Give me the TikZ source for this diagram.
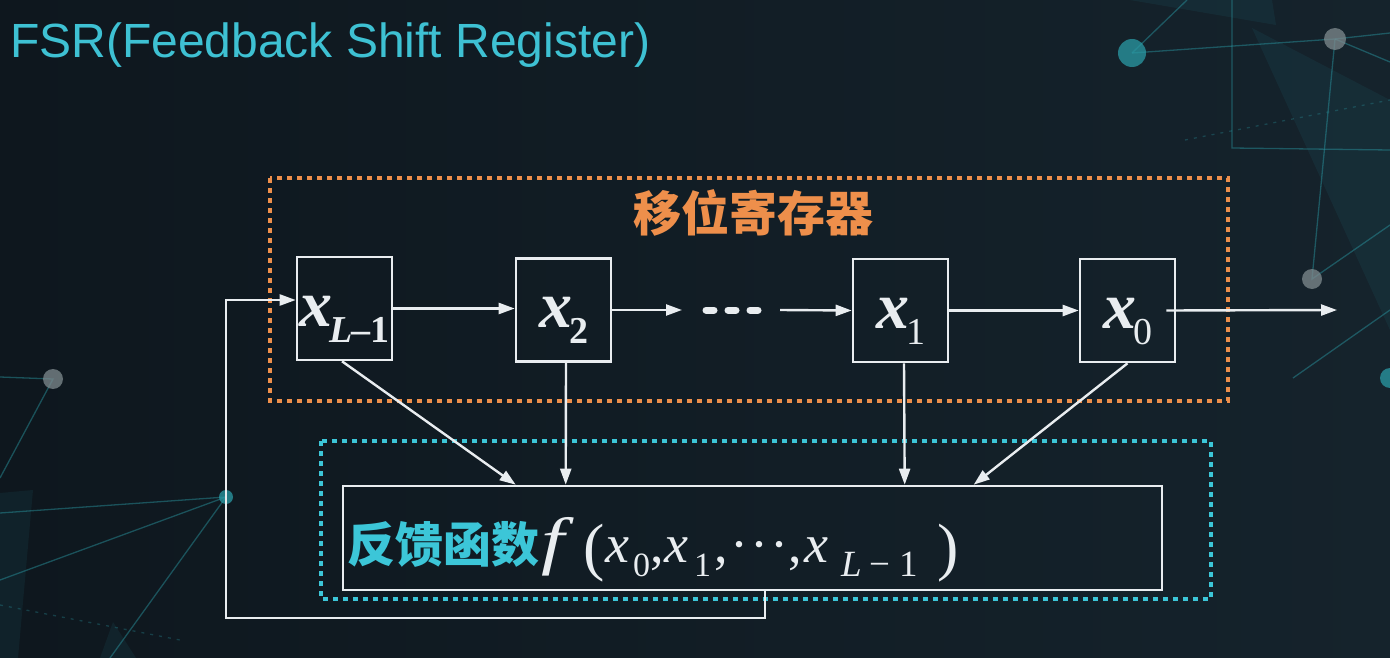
\documentclass[tikz,border=0pt]{standalone}
\usepackage{fontspec}
\setmainfont{Liberation Serif}
\newfontfamily\titlefont{Liberation Sans}
\newfontfamily\cjk{Noto Sans CJK SC}
\usetikzlibrary{arrows.meta,calc}
\definecolor{bgA}{HTML}{0E171E}
\definecolor{bgB}{HTML}{15232C}
\definecolor{titlec}{HTML}{3EC1D3}
\definecolor{orangec}{HTML}{EE8F4B}
\definecolor{cyanc}{HTML}{3CC6D8}
\definecolor{linec}{HTML}{E9EDF0}
\definecolor{netc}{HTML}{2A9AA5}
\definecolor{dotgray}{HTML}{7F8B8F}
\newcommand{\regx}[1]{\fontsize{66}{70}\selectfont\bfseries\itshape x\kern-3pt\raisebox{-16pt}{\upshape\fontsize{38}{40}\selectfont #1}}
\newcommand{\fsub}[1]{\raisebox{-14pt}{\upshape\fontsize{34}{36}\selectfont #1}}
\newcommand{\fsubb}[1]{\raisebox{-14pt}{\upshape\fontsize{37}{39}\selectfont #1}}
\newcommand{\gl}[2]{\makebox[#1pt][l]{#2}}
\begin{document}
\begin{tikzpicture}[x=1pt,y=-1pt,
  reg/.style={draw=linec, line width=2.6pt, minimum width=95pt, minimum height=103pt, inner sep=0pt, text=linec, text height=45pt, text depth=10pt},
  arr/.style={draw=linec, line width=2.4pt, -{Triangle[length=16pt,width=11pt]}},
  dotbox/.style={line width=4.5pt, dash pattern=on 5pt off 5pt},
  net/.style={draw=netc, line width=1.3pt, opacity=0.45},
  netfill/.style={fill=netc, opacity=0.09},
]
% background
\shade[left color=bgA, right color=bgB] (0,0) rectangle (1390,658);
\useasboundingbox (0,0) rectangle (1390,658);

% decorative network, top right
\fill[netfill] (1130,0) -- (1272,0) -- (1276,25) -- cycle;
\fill[netfill] (1252,28) -- (1390,100) -- (1390,330) -- cycle;
\draw[net] (1132,53) -- (1187,0);
\draw[net] (1132,53) -- (1335,39) -- (1390,33);
\draw[net] (1335,39) -- (1390,62);
\draw[net] (1232,0) -- (1232,148) -- (1390,150);
\draw[net] (1335,39) -- (1312,279) -- (1390,225);
\draw[net] (1293,378) -- (1390,310);
\draw[net, dash pattern=on 3pt off 6pt, opacity=0.3] (1185,140) -- (1390,100);
\fill[netc, opacity=0.75] (1132,53) circle (14);
\fill[dotgray, opacity=0.75] (1335,39) circle (11);
\fill[dotgray, opacity=0.75] (1312,279) circle (10);
\fill[netc, opacity=0.75] (1390,378) circle (10);

% decorative network, left
\fill[netfill] (0,493) -- (33,490) -- (18,658) -- (0,658) -- cycle;
\fill[netfill] (100,658) -- (113,622) -- (136,658) -- cycle;
\draw[net] (0,377) -- (53,379) -- (0,478);
\draw[net] (226,497) -- (0,513);
\draw[net] (226,497) -- (0,580);
\draw[net] (226,497) -- (110,658);
\draw[net, dash pattern=on 3pt off 6pt, opacity=0.3] (0,605) -- (180,640);
\fill[dotgray, opacity=0.75] (53,379) circle (10);
\fill[netc, opacity=0.75] (226,497) circle (7);

% title
\node[anchor=base west, inner sep=0pt, text=titlec, font=\titlefont\fontsize{48}{52}\selectfont] (title) at (10,58) {FSR(Feedback Shift Register)};

% dotted group boxes
\draw[dotbox, draw=orangec] (270,178) rectangle (1228,401);
\node[text=orangec, font=\cjk\bfseries\fontsize{48}{50}\selectfont, inner sep=0pt] (reglabel) at (753,213) {移位寄存器};
\draw[dotbox, draw=cyanc] (321,441) rectangle (1211,599);

% registers
\node[reg] (xL1) at (344.5,308.5) {\regx{{\itshape L}\kern-2pt–1}};
\node[reg] (x2)  at (563.5,310) {\regx{2}};
\node[reg] (x1)  at (900.5,310.5) {\regx{\mdseries 1}};
\node[reg] (x0)  at (1127.5,310.5) {\regx{\mdseries 0}};

% feedback function box
\node[draw=linec, line width=2.6pt, minimum width=819pt, minimum height=104pt, inner sep=0pt] (fn) at (752.5,538) {};
\node[anchor=base west, inner sep=0pt] (fntext) at (347,562) {%
{\cjk\bfseries\fontsize{48}{50}\selectfont\color{cyanc}\gl{191}{反馈函数}}%
{\color{linec}\fontsize{54}{56}\selectfont
\gl{45}{\kern3pt\scalebox{1.3}[1]{\fontsize{64}{64}\selectfont\itshape f}}%
\gl{22}{\raisebox{-6pt}{\fontsize{64}{64}\selectfont (}}%
\gl{28}{\itshape x}\gl{17}{\fsub{0}}\gl{14}{,}%
\gl{30}{\itshape x}\gl{20}{\fsub{1}}\gl{16}{,}%
\gl{20}{·}\gl{20}{·}\gl{18}{·}\gl{16}{,}%
\gl{37}{\itshape x}\gl{28}{\fsubb{\itshape L}}\gl{30}{\fsubb{−}}\gl{38}{\fsubb{1}}%
\raisebox{-6pt}{\fontsize{64}{64}\selectfont )}}};

% shift arrows
\coordinate (dotsA) at (682,310);
\coordinate (dotsB) at (780,310);
\coordinate (out) at (1337,310);
\draw[arr] (xL1.east) -- (x2.west |- xL1.east);
\draw[arr] (x2.east) -- (dotsA);
\draw[draw=linec, line width=7pt, line cap=round, dash pattern=on 8pt off 14pt] (706,310) -- (760,310);
\draw[arr] (dotsB) -- (x1.west);
\draw[arr] (x1.east) -- (x0.west);
\draw[arr] ([xshift=-10pt]x0.east) -- (out);

% taps to feedback function
\draw[arr] ([xshift=-2.5pt]xL1.south) -- ($(fn.north west)+(174,0)$);
\draw[arr] ([xshift=2.5pt]x2.south) -- ($(fn.north west)+(224,0)$);
\draw[arr] ([xshift=3.5pt]x1.south) -- ($(fn.north west)+(563,0)$);
\draw[arr] (x0.south) -- ($(fn.north west)+(632,0)$);

% feedback loop
\coordinate (fbcorner) at (226,618);
\draw[arr] ([xshift=12.5pt]fn.south) |- (fbcorner) |- ([yshift=8.5pt]xL1.west);
\end{tikzpicture}
\end{document}
